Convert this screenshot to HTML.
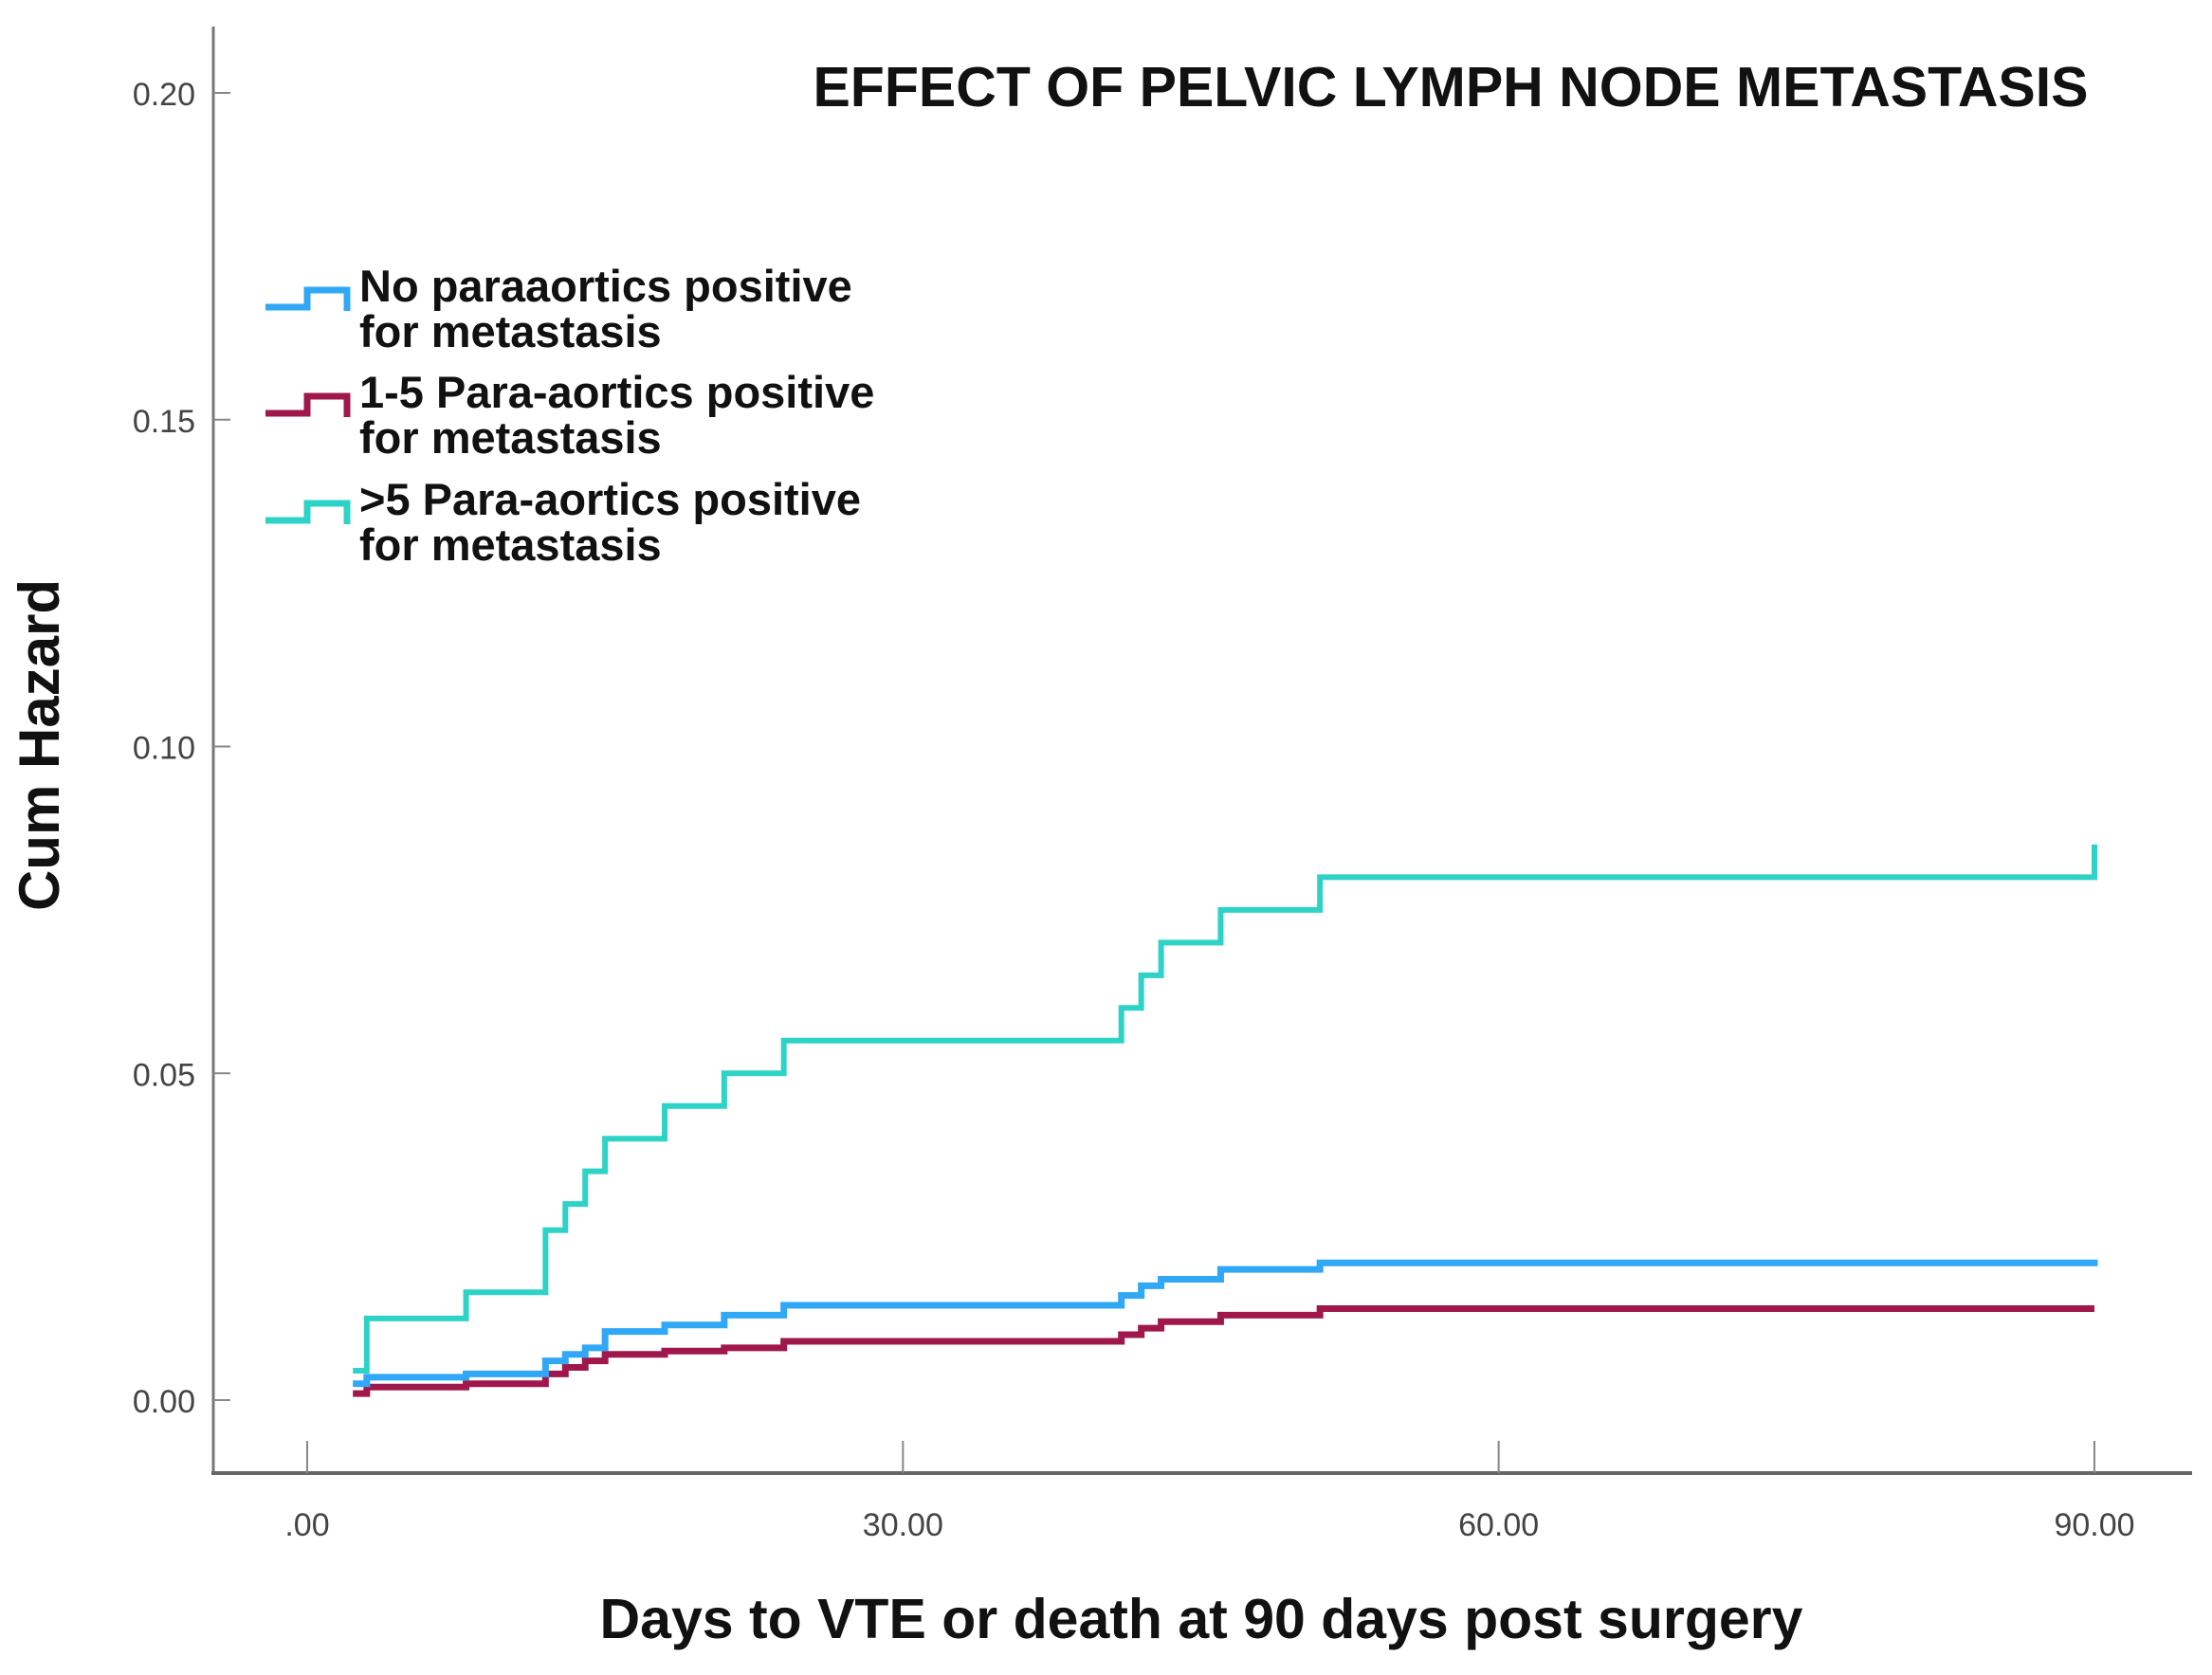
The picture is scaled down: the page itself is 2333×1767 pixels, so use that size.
<!DOCTYPE html>
<html><head><meta charset="utf-8"><style>
html,body{margin:0;padding:0;background:#fff;}
svg{display:block;}
</style></head><body>
<svg id="chart" width="2333" height="1767" viewBox="0 0 2333 1767" xmlns="http://www.w3.org/2000/svg">
<rect width="2333" height="1767" fill="#fff"/>
<g id="axes"></g>
<g id="series"></g>
<text x="1530" y="112" text-anchor="middle" font-family="Liberation Sans, sans-serif" font-size="59" font-weight="bold" fill="#111">EFFECT OF PELVIC LYMPH NODE METASTASIS</text>
<text transform="translate(62,786) rotate(-90)" text-anchor="middle" font-family="Liberation Sans, sans-serif" font-size="60" font-weight="bold" fill="#111">Cum Hazard</text>
<text x="1267" y="1728" text-anchor="middle" font-family="Liberation Sans, sans-serif" font-size="59" font-weight="bold" fill="#111">Days to VTE or death at 90 days post surgery</text>
<g id="legend" font-family="Liberation Sans, sans-serif" font-size="47" font-weight="bold" fill="#111">
 <g>
  <polyline points="280,324 324,324 324,306 366,306 366,328" fill="none" stroke="#30a8f5" stroke-width="7"/>
  <text x="379" y="318">No paraaortics positive</text><text x="379" y="366">for metastasis</text>
 </g>
 <g>
  <polyline points="280,436 324,436 324,418 366,418 366,440" fill="none" stroke="#a0174c" stroke-width="7"/>
  <text x="379" y="430">1-5 Para-aortics positive</text><text x="379" y="478">for metastasis</text>
 </g>
 <g>
  <polyline points="280,549 324,549 324,531 366,531 366,553" fill="none" stroke="#2ed3c8" stroke-width="7"/>
  <text x="379" y="543">&gt;5 Para-aortics positive</text><text x="379" y="591">for metastasis</text>
 </g>
</g>
</svg>
<script>
const yTicks = [0, 0.05, 0.10, 0.15, 0.20];
const yTickLabels = ["0.00", "0.05", "0.10", "0.15", "0.20"];
const xTicks = [0, 30, 60, 90];
const xTickLabels = [".00", "30.00", "60.00", "90.00"];
const cyanDays = [2.3, 3, 8, 12, 13, 14, 15, 18, 21, 24, 41, 42, 43, 46, 51, 90];
const cyanHaz = [0.0045, 0.0125, 0.0165, 0.026, 0.030, 0.035, 0.040, 0.045, 0.050, 0.055, 0.060, 0.065, 0.070, 0.075, 0.080, 0.085];
const blueDays = [2.3, 3, 8, 12, 13, 14, 15, 18, 21, 24, 41, 42, 43, 46, 51, 90];
const blueHaz = [0.0025, 0.0035, 0.004, 0.006, 0.007, 0.008, 0.0105, 0.0115, 0.013, 0.0145, 0.016, 0.0175, 0.0185, 0.020, 0.021, 0.0215];
const redDays = [2.3, 3, 8, 12, 13, 14, 15, 18, 21, 24, 41, 42, 43, 46, 51, 90];
const redHaz = [0.001, 0.002, 0.0025, 0.004, 0.005, 0.006, 0.007, 0.0075, 0.008, 0.009, 0.010, 0.011, 0.012, 0.013, 0.014, 0.014];

const NS = "http://www.w3.org/2000/svg";
const X0 = 324, X90 = 2209, Y0 = 1477, Y20 = 98;
function xs(d){ return X0 + (X90 - X0) * d / 90; }
function ys(v){ return Y0 - (Y0 - Y20) * v / 0.20; }
function mk(tag, attrs, parent){ const e = document.createElementNS(NS, tag); for (const k in attrs) e.setAttribute(k, attrs[k]); parent.appendChild(e); return e; }

const axes = document.getElementById('axes');
const yAxis = mk('line', {x1:225, y1:28, x2:225, y2:1554, stroke:'#777', 'stroke-width':3}, axes);


const xAxis = mk('line', {x1:223, y1:1554, x2:2312, y2:1554, stroke:'#666', 'stroke-width':4}, axes);


yTicks.forEach((v, i) => {
  const t = mk('line', {x1:225, y1:ys(v), x2:243, y2:ys(v), stroke:'#888', 'stroke-width':2}, axes);
  
  
  const l = mk('text', {x:206, y:ys(v) + 13, 'text-anchor':'end', 'font-family':'Liberation Sans, sans-serif', 'font-size':34, fill:'#444'}, axes);
  l.textContent = yTickLabels[i];
  
  
});
xTicks.forEach((d, i) => {
  const t = mk('line', {x1:xs(d), y1:1520, x2:xs(d), y2:1554, stroke:'#888', 'stroke-width':2}, axes);
  
  
  const l = mk('text', {x:xs(d), y:1620, 'text-anchor':'middle', 'font-family':'Liberation Sans, sans-serif', 'font-size':34, fill:'#444'}, axes);
  l.textContent = xTickLabels[i];
  
  
});

const series = document.getElementById('series');
function stepPath(days, haz){
  let p = 'M' + xs(days[0]) + ',' + ys(haz[0]);
  for (let i = 1; i < days.length; i++){
    p += ' H' + xs(days[i]) + ' V' + ys(haz[i]);
  }
  return p;
}
const sRed = mk('path', {d: stepPath(redDays, redHaz), fill:'none', stroke:'#a0174c', 'stroke-width':7}, series);


const sBlue = mk('path', {d: stepPath(blueDays, blueHaz), fill:'none', stroke:'#30a8f5', 'stroke-width':7}, series);


const sCyan = mk('path', {d: stepPath(cyanDays, cyanHaz), fill:'none', stroke:'#2ed3c8', 'stroke-width':6}, series);


</script>
</body></html>
